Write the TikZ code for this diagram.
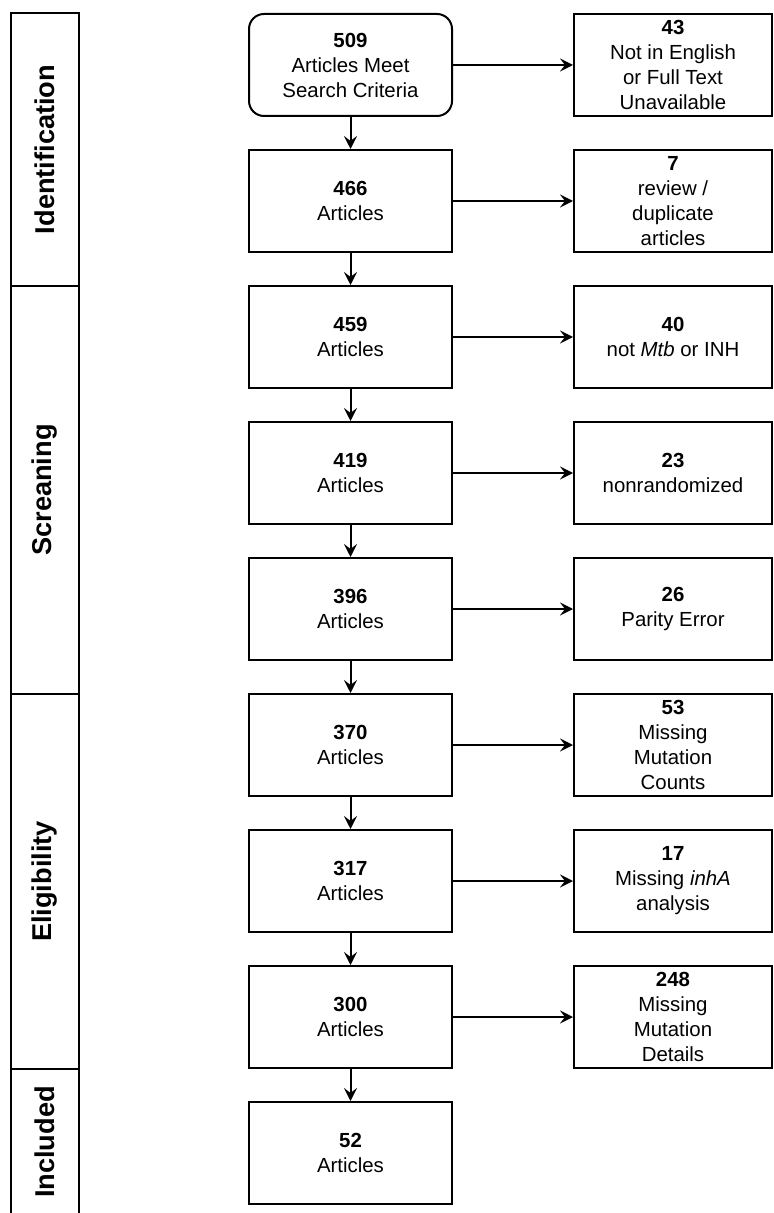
\documentclass[tikz,border=0pt]{standalone}
\usepackage{fontspec}
\setmainfont{Liberation Sans}
\usetikzlibrary{positioning, arrows.meta}

\begin{document}
\begin{tikzpicture}[x=0.5pt, y=-0.5pt, line width=1pt,
    stagebox/.style={draw, minimum width=101.5pt, minimum height=51pt,
      inner sep=0pt, align=center, font=\fontsize{10.2}{12.5}\selectfont},
    exclbox/.style={draw, minimum width=99pt, minimum height=51pt,
      inner sep=0pt, align=center, font=\fontsize{10.2}{12.5}\selectfont},
    lanebox/.style={draw, rotate=90, minimum height=34pt, inner sep=0pt,
      font=\fontsize{13.6}{16}\selectfont\bfseries},
    flow/.style={-{Stealth[length=6.5pt, width=6.5pt, inset=2.5pt]}}]
  \useasboundingbox (0,0) rectangle (773,1213);

  % phase lanes
  \node[lanebox, minimum width=136.5pt] (ident) at (45,149.5) {Identification};
  \node[lanebox, minimum width=204pt] (screen) at (45,490) {Screaning};
  \node[lanebox, minimum width=187.5pt] (elig) at (45,881.5) {Eligibility};
  \node[lanebox, minimum width=73pt] (incl) at (45,1142) {Included};

  % main column
  \node[stagebox, rounded corners=7.5pt] (n509) at (350.5,65)
    {\textbf{509}\\Articles Meet\\Search Criteria};
  \node[stagebox] (n466) at (350.5,201) {\textbf{466}\\Articles};
  \node[stagebox] (n459) at (350.5,337) {\textbf{459}\\Articles};
  \node[stagebox] (n419) at (350.5,473) {\textbf{419}\\Articles};
  \node[stagebox] (n396) at (350.5,609) {\textbf{396}\\Articles};
  \node[stagebox] (n370) at (350.5,745) {\textbf{370}\\Articles};
  \node[stagebox] (n317) at (350.5,881) {\textbf{317}\\Articles};
  \node[stagebox] (n300) at (350.5,1017) {\textbf{300}\\Articles};
  \node[stagebox] (n52) at (350.5,1153) {\textbf{52}\\Articles};

  % excluded
  \node[exclbox] (x43) at (673,65)
    {\textbf{43}\\Not in English\\or Full Text\\Unavailable};
  \node[exclbox] (x7) at (673,201) {\textbf{7}\\review /\\duplicate\\articles};
  \node[exclbox] (x40) at (673,337) {\textbf{40}\\not \textit{Mtb} or INH};
  \node[exclbox] (x23) at (673,473) {\textbf{23}\\nonrandomized};
  \node[exclbox] (x26) at (673,609) {\textbf{26}\\Parity Error};
  \node[exclbox] (x53) at (673,745) {\textbf{53}\\Missing\\Mutation\\Counts};
  \node[exclbox] (x17) at (673,881) {\textbf{17}\\Missing \textit{inhA}\\analysis};
  \node[exclbox] (x248) at (673,1017) {\textbf{248}\\Missing\\Mutation\\Details};

  \draw[flow] (n509) -- (n466);
  \draw[flow] (n466) -- (n459);
  \draw[flow] (n459) -- (n419);
  \draw[flow] (n419) -- (n396);
  \draw[flow] (n396) -- (n370);
  \draw[flow] (n370) -- (n317);
  \draw[flow] (n317) -- (n300);
  \draw[flow] (n300) -- (n52);

  \draw[flow] (n509) -- (x43);
  \draw[flow] (n466) -- (x7);
  \draw[flow] (n459) -- (x40);
  \draw[flow] (n419) -- (x23);
  \draw[flow] (n396) -- (x26);
  \draw[flow] (n370) -- (x53);
  \draw[flow] (n317) -- (x17);
  \draw[flow] (n300) -- (x248);
\end{tikzpicture}
\end{document}
